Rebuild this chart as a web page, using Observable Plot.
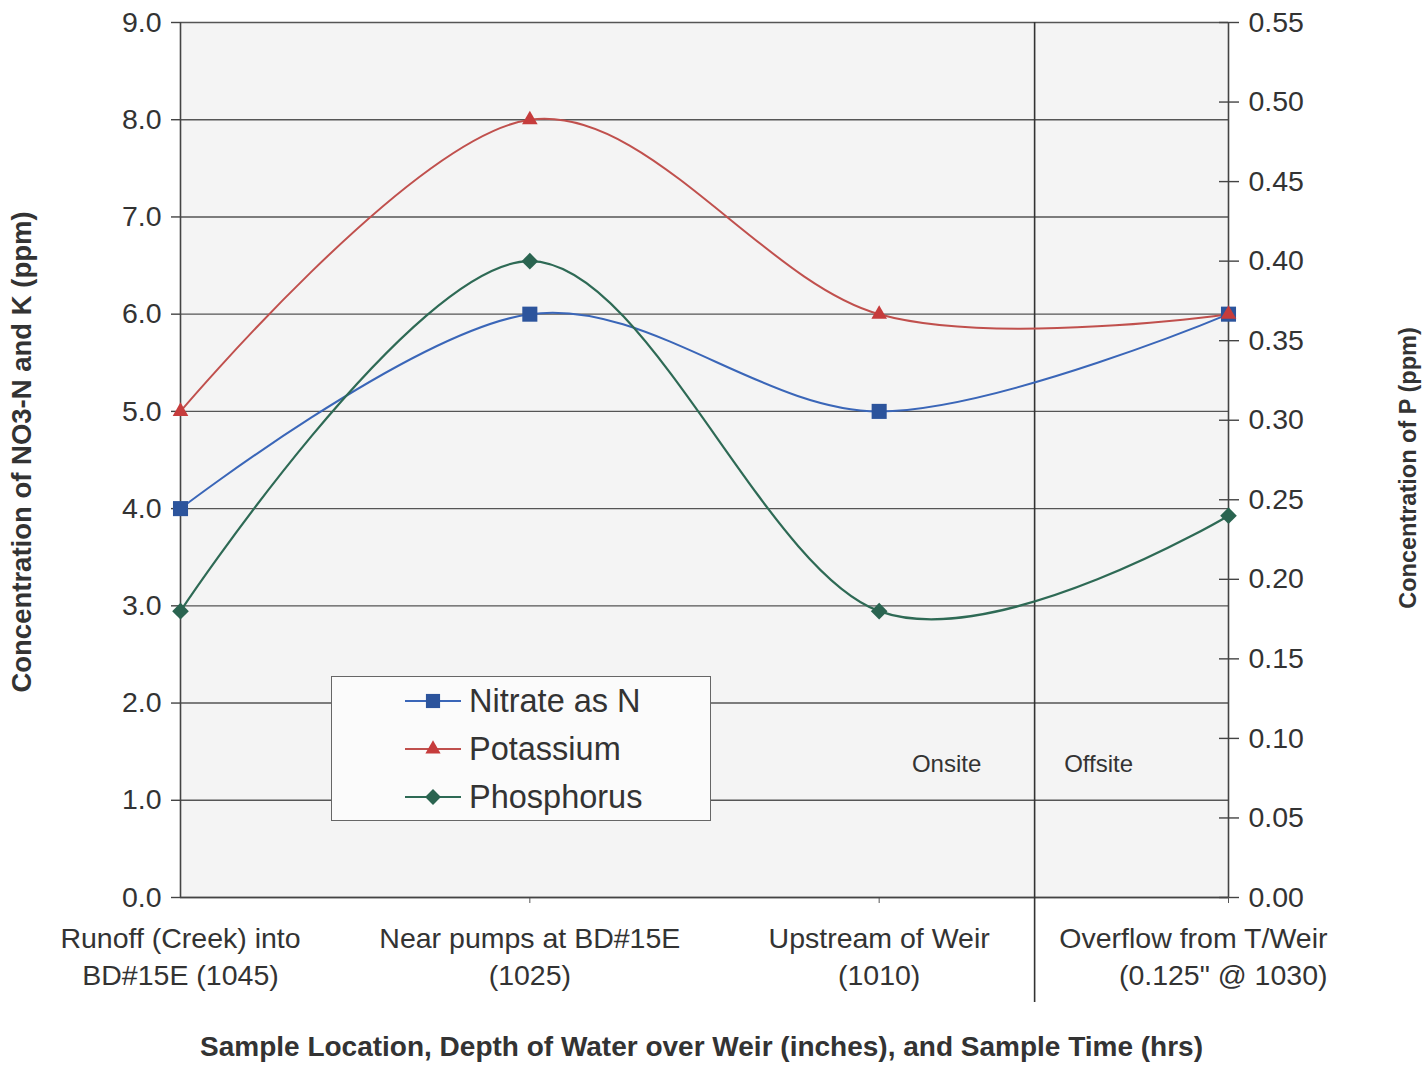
<!DOCTYPE html>
<html>
<head>
<meta charset="utf-8">
<script src="https://cdn.jsdelivr.net/npm/d3@7"></script>
<script src="https://cdn.jsdelivr.net/npm/@observablehq/plot@0.6"></script>
<style>
  body { margin: 0; background: #fff; }
  #wrap { position: relative; width: 1427px; height: 1066px; font-family: "Liberation Sans", Arial, sans-serif; }
  #legend { position: absolute; left: 331px; top: 676px; width: 378px; height: 143px; border: 1.5px solid #666; background: #fbfbfb; }
  .row { position: absolute; left: 72px; height: 40px; display: flex; align-items: center; font-size: 32.5px; color: #333; }
  .row svg { margin-right: 7px; }
</style>
</head>
<body>
<div id="wrap"></div>
<script>
const categories = [
  "Runoff (Creek) into\nBD#15E (1045)",
  "Near pumps at BD#15E\n(1025)",
  "Upstream of Weir\n(1010)",
  "Overflow from T/Weir\n(0.125\" @ 1030)"
];
const nitrate = [4.0, 6.0, 5.0, 6.0];
const potassium = [5.0, 8.0, 6.0, 6.0];
const phosphorus = [0.18, 0.40, 0.18, 0.24];
const leftTicks = [0, 1, 2, 3, 4, 5, 6, 7, 8, 9];
const rightTicks = [0, 0.05, 0.10, 0.15, 0.20, 0.25, 0.30, 0.35, 0.40, 0.45, 0.50, 0.55];
const leftMax = 9;
const rightMax = 0.55;
const dividers = [2.445];
const zoneLabels = ["Onsite", "Offsite"];
const seriesNames = ["Nitrate as N", "Potassium", "Phosphorus"];
const xTitle = "Sample Location, Depth of Water over Weir (inches), and Sample Time (hrs)";
const yTitle = "Concentration of NO3-N and K (ppm)";
const y2Title = "Concentration of P (ppm)";

const toLeft = v => v * leftMax / rightMax;
const toRight = v => v * rightMax / leftMax;
const rows = (arr) => arr.map((v, i) => ({i, v}));
const nRows = rows(nitrate);
const kRows = rows(potassium);
const pRows = rows(phosphorus.map(toLeft));
const rightScaled = rightTicks.map(toLeft);

const colN = "#3a66b8", colNm = "#2c549c";
const colK = "#c0504d", colKm = "#c63c3c";
const colP = "#2e6a55", colPm = "#2a6450";
const font = "Liberation Sans, Arial, sans-serif";
const textCol = "#333";

const chart = Plot.plot({
  width: 1427,
  height: 1066,
  marginLeft: 180,
  marginRight: 199,
  marginTop: 22,
  marginBottom: 169,
  x: {domain: [0, 3], axis: null},
  y: {domain: [0, 9], axis: null},
  style: {fontFamily: font, background: "transparent", color: textCol},
  marks: [
    Plot.frame({fill: "#f4f4f4", stroke: null}),
    Plot.gridY(leftTicks, {stroke: "#555", strokeOpacity: 1, strokeWidth: 1.4}),
    Plot.axisY(leftTicks, {anchor: "left", tickFormat: d => d.toFixed(1), tickSize: 9, tickPadding: 10, fontSize: 28.5, stroke: "#444", strokeWidth: 1.4, label: null}),
    Plot.axisY(rightScaled, {anchor: "right", tickFormat: d => toRight(d).toFixed(2), tickSize: 10, tickPadding: 10, fontSize: 28.5, stroke: "#444", strokeWidth: 1.4, label: null}),
    Plot.axisY(rightScaled, {anchor: "right", tickFormat: () => "", tickSize: -10, stroke: "#444", strokeWidth: 1.4, label: null}),
    Plot.axisX([1, 2, 3], {anchor: "bottom", tickFormat: () => "", tickSize: 6, stroke: "#555", label: null}),
    Plot.ruleX([0, 3], {stroke: "#444", strokeWidth: 1.6}),
    Plot.ruleY([0], {stroke: "#444", strokeWidth: 1.6}),
    Plot.ruleX(dividers, {y1: -1.08, y2: 9, stroke: "#333", strokeWidth: 1.6}),
    Plot.text([zoneLabels[0]], {x: () => dividers[0], frameAnchor: "bottom", dx: -88, dy: -126, fontSize: 24, fill: textCol}),
    Plot.text([zoneLabels[1]], {x: () => dividers[0], frameAnchor: "bottom", dx: 64, dy: -126, fontSize: 24, fill: textCol}),
    Plot.line(kRows, {x: "i", y: "v", curve: "cardinal", stroke: colK, strokeWidth: 2}),
    Plot.line(nRows, {x: "i", y: "v", curve: "cardinal", stroke: colN, strokeWidth: 2}),
    Plot.line(pRows, {x: "i", y: "v", curve: "cardinal", stroke: colP, strokeWidth: 2.2}),
    Plot.dot(nRows, {x: "i", y: "v", symbol: "square", r: 8.5, fill: colNm, stroke: null}),
    Plot.dot(kRows, {x: "i", y: "v", symbol: "triangle", r: 5.8, fill: colKm, stroke: null}),
    Plot.dot(pRows, {x: "i", y: "v", symbol: "diamond2", r: 7.5, fill: colPm, stroke: null}),
    Plot.text(categories.slice(0, 3), {x: d => categories.indexOf(d), y: 0, text: d => d, dy: 24, lineAnchor: "top", lineHeight: 1.3, fontSize: 28.5, fill: textCol}),
    Plot.text(categories.slice(3), {x: d => categories.indexOf(d), y: 0, text: d => d, dy: 24, dx: 99, textAnchor: "end", lineAnchor: "top", lineHeight: 1.3, fontSize: 28.5, fill: textCol}),
    Plot.text([yTitle], {frameAnchor: "left", textAnchor: "middle", dx: -158, dy: -8, rotate: -90, fontSize: 27.5, fontWeight: "bold", fill: textCol}),
    Plot.text([y2Title], {frameAnchor: "right", textAnchor: "middle", dx: 180, dy: 8, rotate: -90, fontSize: 23.5, fontWeight: "bold", fill: textCol}),
    Plot.text([xTitle], {frameAnchor: "bottom", dx: -3, dy: 158, fontSize: 28, fontWeight: "bold", fill: textCol})
  ]
});

const wrap = document.getElementById("wrap");
wrap.appendChild(chart);

// Legend
const legend = document.createElement("div");
legend.id = "legend";
const legendDefs = [
  {name: seriesNames[0], line: colN, fill: colNm, sym: d3.symbolSquare, size: 200},
  {name: seriesNames[1], line: colK, fill: colKm, sym: d3.symbolTriangle, size: 100},
  {name: seriesNames[2], line: colP, fill: colPm, sym: d3.symbolDiamond2, size: 160}
];
legendDefs.forEach((d, k) => {
  const row = document.createElement("div");
  row.className = "row";
  row.style.top = (4 + k * 48) + "px";
  const svg = d3.create("svg").attr("width", 58).attr("height", 40);
  svg.append("line").attr("x1", 1).attr("x2", 57).attr("y1", 20).attr("y2", 20).attr("stroke", d.line).attr("stroke-width", 2);
  svg.append("path").attr("d", d3.symbol(d.sym, d.size)()).attr("transform", "translate(29,20)").attr("fill", d.fill);
  row.appendChild(svg.node());
  const span = document.createElement("span");
  span.textContent = d.name;
  row.appendChild(span);
  legend.appendChild(row);
});
wrap.appendChild(legend);
</script>
</body>
</html>
